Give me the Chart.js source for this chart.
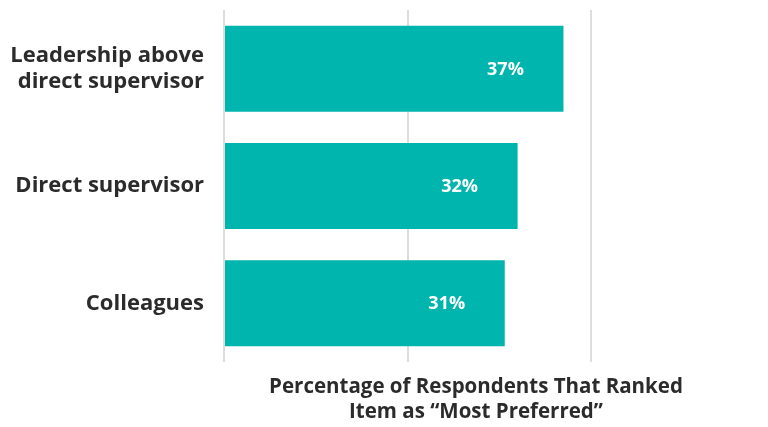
<!DOCTYPE html>
<html>
<head>
<meta charset="utf-8">
<script src="https://cdn.jsdelivr.net/npm/chart.js@4"></script>
<style>
  html, body { margin: 0; padding: 0; background: #fff; }
  #wrap { width: 768px; height: 427px; position: relative; }
</style>
</head>
<body>
<div id="wrap"><canvas id="bars"></canvas></div>
<script>
const categories = [["Leadership above", "direct supervisor"], "Direct supervisor", "Colleagues"];
const values = [37, 32, 30.6];
const xTicks = [0, 20, 40];
const axisTitle = ["Percentage of Respondents That Ranked", "Item as \u201cMost Preferred\u201d"];

const FONT = "'Open Sans', sans-serif";

// percentage labels inside the bar ends
const valueLabels = {
  id: "valueLabels",
  afterDatasetsDraw(chart) {
    const ctx = chart.ctx;
    ctx.save();
    ctx.fillStyle = "#ffffff";
    ctx.font = "bold 18px " + FONT;
    ctx.textAlign = "center";
    ctx.textBaseline = "middle";
    chart.getDatasetMeta(0).data.forEach((bar, i) => {
      ctx.fillText(Math.round(values[i]) + "%", bar.x - 58, bar.y + 1);
    });
    ctx.restore();
  }
};

// two line axis title, placed under the plot
const bottomTitle = {
  id: "bottomTitle",
  afterDraw(chart) {
    const ctx = chart.ctx;
    ctx.save();
    ctx.fillStyle = "#2b2b2b";
    ctx.font = "bold 20.5px " + FONT;
    ctx.textAlign = "center";
    ctx.textBaseline = "middle";
    ctx.fillText(axisTitle[0], 476, 387);
    ctx.fillText(axisTitle[1], 476, 412);
    ctx.restore();
  }
};

new Chart(document.getElementById("bars"), {
  type: "bar",
  data: {
    labels: categories,
    datasets: [{
      data: values,
      backgroundColor: "#00b5ad",
      categoryPercentage: 1,
      barPercentage: 0.733
    }]
  },
  options: {
    indexAxis: "y",
    responsive: true,
    maintainAspectRatio: false,
    animation: false,
    layout: { padding: { top: 10, right: 177, left: 0, bottom: 0 } },
    plugins: {
      legend: { display: false },
      tooltip: { enabled: false }
    },
    scales: {
      x: {
        min: 0,
        max: 40,
        afterBuildTicks: s => { s.ticks = xTicks.map(v => ({ value: v })); },
        afterFit: s => { s.height = 65; s.paddingLeft = 0; s.paddingRight = 0; },
        ticks: { display: false },
        grid: { color: "#dddddd", lineWidth: 2, drawTicks: false },
        border: { display: false }
      },
      y: {
        afterFit: s => { s.width = 224; s.paddingTop = 0; s.paddingBottom = 0; },
        ticks: {
          color: "#2b2b2b",
          padding: 20,
          font: { family: FONT, size: 22, weight: "bold", lineHeight: 1.18 }
        },
        grid: { display: false, drawTicks: false },
        border: { display: false }
      }
    }
  },
  plugins: [valueLabels, bottomTitle]
});
</script>
</body>
</html>
